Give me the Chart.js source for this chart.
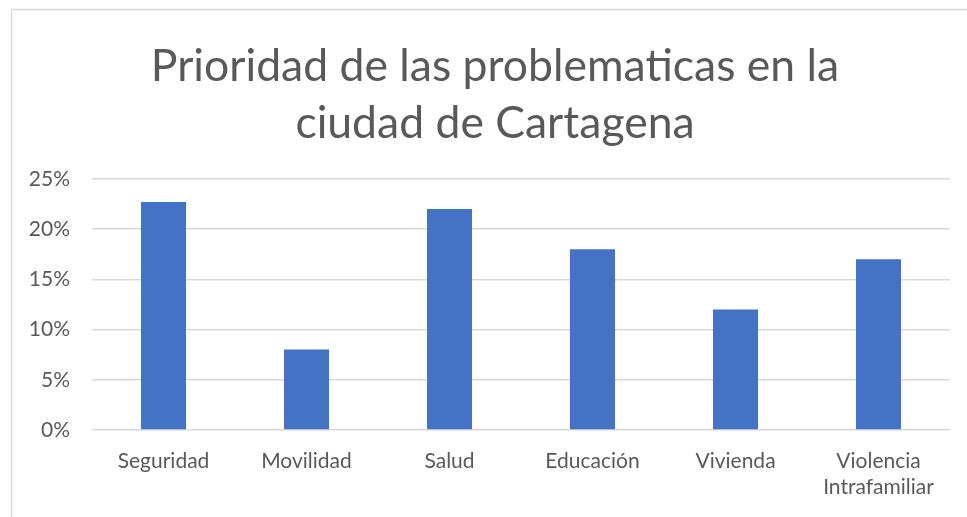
<!DOCTYPE html>
<html>
<head>
<meta charset="utf-8">
<script src="https://cdn.jsdelivr.net/npm/chart.js@4.4.1/dist/chart.umd.min.js"></script>
<style>
  html, body { margin: 0; padding: 0; background: #ffffff; }
  #wrap { width: 967px; height: 517px; position: relative; }
</style>
</head>
<body>
<div id="wrap"><canvas id="problematicasChart"></canvas></div>
<script>
// categorias y porcentajes
const categorias = ["Seguridad", "Movilidad", "Salud", "Educación", "Vivienda", ["Violencia", "Intrafamiliar"]];
const porcentajes = [22.7, 8, 22, 18, 12, 17];
const tituloLineas = ["Prioridad de las problematicas en la", "ciudad de Cartagena"];

const fuente = "Lato, 'Open Sans', sans-serif";
const gris = "#595959";

// marco del area del grafico + centrar el titulo dentro del marco
const marcoPlugin = {
  id: "marco",
  afterLayout(chart) {
    if (chart.titleBlock) {
      chart.titleBlock.left += 28;
    }
  },
  beforeDraw(chart) {
    const ctx = chart.ctx;
    ctx.save();
    ctx.fillStyle = "#ffffff";
    ctx.fillRect(0, 0, chart.width, chart.height);
    ctx.strokeStyle = "#d9d9d9";
    ctx.lineWidth = 1.5;
    ctx.beginPath();
    ctx.moveTo(11.5, chart.height);
    ctx.lineTo(11.5, 9.5);
    ctx.lineTo(chart.width, 9.5);
    ctx.stroke();
    ctx.restore();
  },
};

const config = {
  type: "bar",
  data: {
    labels: categorias,
    datasets: [
      {
        label: "Prioridad",
        data: porcentajes,
        backgroundColor: "#4472C4",
        barPercentage: 0.315,
        categoryPercentage: 1,
      },
    ],
  },
  options: {
    responsive: true,
    maintainAspectRatio: false,
    animation: false,
    layout: {
      padding: { left: 12, right: 17, top: 18, bottom: 0 },
    },
    plugins: {
      legend: { display: false },
      tooltip: { enabled: false },
      title: {
        display: true,
        text: tituloLineas,
        color: gris,
        font: { family: fuente, size: 44.5, weight: "normal", lineHeight: 1.29 },
        padding: { top: 20, bottom: 26 },
      },
    },
    scales: {
      x: {
        grid: { display: false },
        border: { display: false },
        ticks: {
          color: gris,
          font: { family: fuente, size: 21 },
          padding: 11,
          maxRotation: 0,
          autoSkip: false,
        },
        afterFit(scale) {
          scale.height = 87;
        },
      },
      y: {
        min: 0,
        max: 25,
        border: { display: false },
        grid: { color: "#d9d9d9", lineWidth: 1.5, drawTicks: false },
        ticks: {
          stepSize: 5,
          color: gris,
          font: { family: fuente, size: 21 },
          padding: 22,
          callback: function (value) {
            return value + "%";
          },
        },
        afterFit(scale) {
          scale.width = 80;
        },
      },
    },
  },
  plugins: [marcoPlugin],
};

new Chart(document.getElementById("problematicasChart"), config);
</script>
</body>
</html>
